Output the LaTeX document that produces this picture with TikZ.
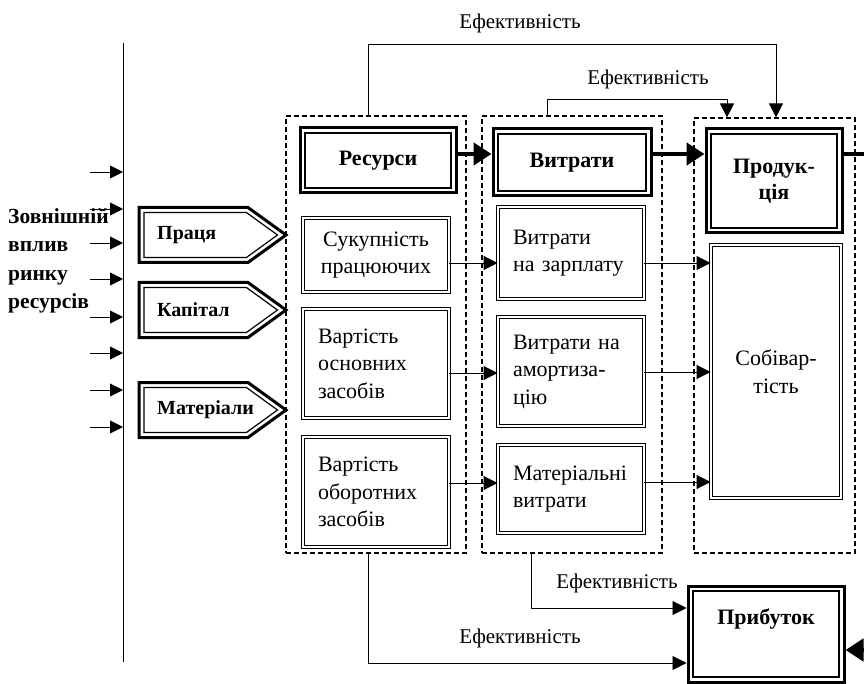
\documentclass[tikz,border=0pt]{standalone}
\usepackage{fontspec}
\setmainfont{Liberation Serif}
\usetikzlibrary{arrows.meta}

\begin{document}
\begin{tikzpicture}[x=1pt,y=-1pt,
    headbox/.style={draw,line width=3pt,fill=white,align=center,
        font=\fontsize{22}{26}\selectfont\bfseries,
        path picture={\draw[line width=1.2pt]
            ([shift={(5pt,5pt)}]path picture bounding box.south west) rectangle
            ([shift={(-5pt,-5pt)}]path picture bounding box.north east);}},
    cellbox/.style={draw,double,double distance=2pt,line width=0.9pt,fill=white,
        font=\fontsize{22}{27.5}\selectfont,text width=116pt,inner xsep=15pt,align=left},
    group/.style={draw,dash pattern=on 5pt off 3pt,line width=1.2pt},
    efflabel/.style={font=\fontsize{21}{25}\selectfont},
    thinarr/.style={-{Triangle[length=14pt,width=14pt]},line width=0.9pt},
    thickarr/.style={-{Triangle[length=18pt,width=22pt]},line width=4.5pt}
    ]
    \useasboundingbox (0,0) rectangle (864,684);

    % dashed groups
    \node[group,minimum width=180,minimum height=437] (g1) at (376,334.5) { };
    \node[group,minimum width=180,minimum height=437] (g2) at (572,334.5) { };
    \node[group,minimum width=161,minimum height=435] (g3) at (774.5,335.5) { };

    % market side
    \coordinate (ltop) at (123,43);
    \coordinate (lbot) at (123,662);
    \draw[line width=0.9pt] (ltop) -- (lbot);
    \foreach \y in {172,209,243,279,317,353,390,427}
        {
        \draw[-{Triangle[length=13pt,width=13pt]},line width=0.9pt] (90,\y) -- (ltop |- 0,\y);
    }
    \node[font=\fontsize{21.5}{28.5}\selectfont\bfseries,align=left,inner sep=0,anchor=west]
        (vplyv) at (8,261) {Зовнішній\\вплив\\ринку\\ресурсів};

    % resource arrows
    \foreach \y/\nm/\txt in {235/pracia/Праця, 310/kapital/Капітал, 410/materialy/Матеріали}
        {
        \draw[line width=3pt,fill=white] (139,\y-27.5) -- (248,\y-27.5) -- (286,\y)
            -- (248,\y+27.5) -- (139,\y+27.5) -- cycle;
        \draw[line width=1.2pt] (144,\y-22.5) -- (246.4,\y-22.5) -- (277.5,\y)
            -- (246.4,\y+22.5) -- (144,\y+22.5) -- cycle;
        \node[font=\fontsize{20}{24}\selectfont\bfseries,inner sep=0,anchor=west] (\nm) at (157,\y) {\txt};
    }

    % main blocks
    \node[headbox,minimum width=156,minimum height=65] (resursy) at (378,160.5) {Ресурси};
    \node[headbox,minimum width=158,minimum height=67] (vytraty) at (572,162.5) {Витрати};
    \node[headbox,minimum width=136,minimum height=104] (produkcia) at (774,181) {Продук-\\ція};
    \node[headbox,minimum width=156,minimum height=96] (pributok) at (766,634) {Прибуток\\ \strut};

    % detail blocks
    \node[cellbox,align=center,minimum height=74] (sukup) at (376,255) {Сукупність\\працюючих};
    \node[cellbox,minimum height=109] (osnovni) at (376,363.5) {Вартість\\основних\\засобів};
    \node[cellbox,minimum height=110] (oborotni) at (376,492) {Вартість\\оборотних\\засобів};
    \node[cellbox,minimum height=92] (zarplata) at (571,253) {Витрати\\на зарплату};
    \node[cellbox,minimum height=109] (amort) at (571,371.5) {Витрати на\\амортиза-\\цію};
    \node[cellbox,minimum height=88] (matvytr) at (571,489) {Матеріальні\\витрати};
    \node[cellbox,text width=100pt,align=center,minimum height=253] (sobiv) at (776,371.5) {Собівар-\\тість};

    % flows
    \draw[thickarr] (resursy.east |- 0,154) -- (vytraty.west |- 0,154);
    \draw[thickarr] (vytraty.east |- 0,154) -- (produkcia.west |- 0,154);
    \coordinate (pout) at (864,154);
    \draw[line width=4.5pt] (produkcia.east |- pout) -- (pout);
    \coordinate (pin) at (864,650);
    \draw[thickarr] (pin) -- (pributok.east |- pin);

    \draw[thinarr] (sukup.east |- 0,263) -- (zarplata.west |- 0,263);
    \draw[thinarr] (osnovni.east |- 0,373) -- (amort.west |- 0,373);
    \draw[thinarr] (oborotni.east |- 0,483) -- (matvytr.west |- 0,483);
    \draw[thinarr] (zarplata.east |- 0,263) -- (sobiv.west |- 0,263);
    \draw[thinarr] (amort.east |- 0,372) -- (sobiv.west |- 0,372);
    \draw[thinarr] (matvytr.east |- 0,482) -- (sobiv.west |- 0,482);

    % efficiency links
    \draw[thinarr] (g1.north -| 368,0) -- (368,44) -| (g3.north -| 776,0);
    \draw[thinarr] (g2.north -| 547,0) -- (547,99) -| (g3.north -| 727,0);
    \draw[thinarr] (g2.south -| 531,0) |- (pributok.west |- 0,608);
    \draw[thinarr] (g1.south -| 368,0) |- (pributok.west |- 0,663);
    \node[efflabel] (eff1) at (520,23) {Ефективність};
    \node[efflabel] (eff2) at (648,79) {Ефективність};
    \node[efflabel] (eff3) at (617,583) {Ефективність};
    \node[efflabel] (eff4) at (520,638) {Ефективність};

\end{tikzpicture}
\end{document}
